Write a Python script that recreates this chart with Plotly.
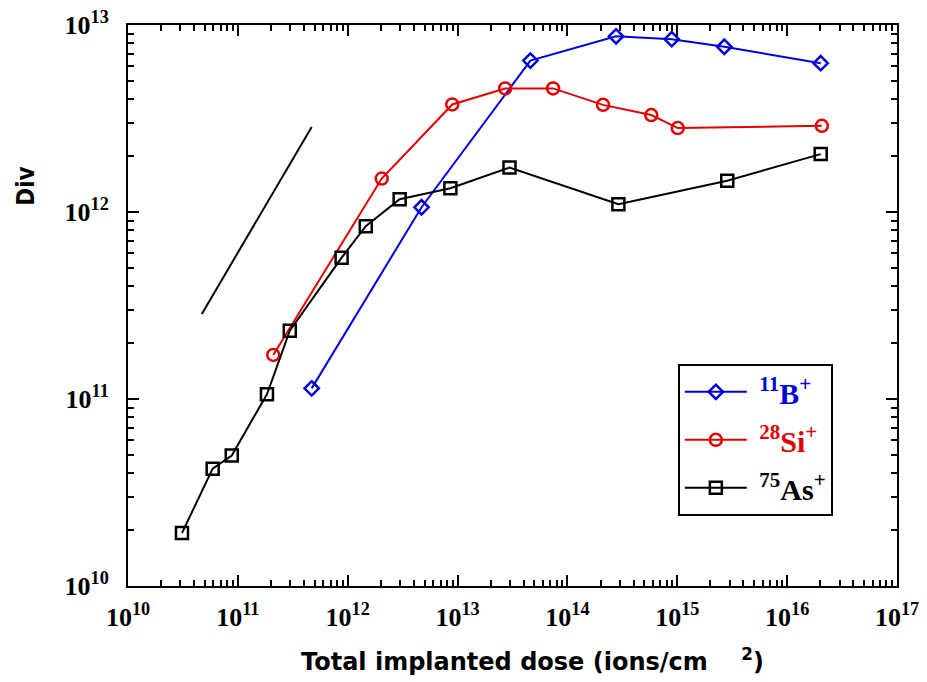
import plotly.graph_objects as go

# --- data ---
b_x = [4.7e11, 4.7e12, 4.6e13, 2.77e14, 8.9e14, 2.68e15, 2.02e16]
b_y = [1.14e11, 1.06e12, 6.45e12, 8.7e12, 8.4e12, 7.65e12, 6.25e12]

si_x = [2.1e11, 2.04e12, 8.95e12, 2.71e13, 7.4e13, 2.11e14, 5.8e14, 1.01e15, 2.07e16]
si_y = [1.72e11, 1.51e12, 3.76e12, 4.58e12, 4.58e12, 3.74e12, 3.3e12, 2.81e12, 2.89e12]

as_x = [3.1e10, 5.9e10, 8.8e10, 1.84e11, 2.97e11, 8.8e11, 1.46e12, 2.97e12, 8.6e12,
        2.97e13, 2.91e14, 2.85e15, 2.02e16]
as_y = [1.92e10, 4.24e10, 4.98e10, 1.06e11, 2.32e11, 5.7e11, 8.4e11, 1.17e12, 1.34e12,
        1.73e12, 1.1e12, 1.47e12, 2.04e12]

ref_x = [4.7e10, 4.7e11]
ref_y = [2.85e11, 2.85e12]

tick_exps = [10, 11, 12, 13, 14, 15, 16, 17]
ytick_exps = [10, 11, 12, 13]

fig = go.Figure()

fig.add_trace(go.Scatter(x=ref_x, y=ref_y, mode="lines", line=dict(color="black", width=2),
                         showlegend=False, hoverinfo="skip"))

fig.add_trace(go.Scatter(
    x=b_x, y=b_y, mode="lines+markers", legendgroup="b",
    name="&nbsp;<span style='color:#0000dd'><sup>11</sup>B<sup>+</sup></span>",
    line=dict(color="#0000dd", width=2),
    marker=dict(symbol="diamond-open", size=11, color="#0000dd", line=dict(width=2.5)),
))
fig.add_trace(go.Scatter(
    x=si_x, y=si_y, mode="lines+markers", legendgroup="si",
    name="&nbsp;<span style='color:#e00000'><sup>28</sup>Si<sup>+</sup></span>",
    line=dict(color="#e00000", width=2),
    marker=dict(symbol="circle-open", size=12, color="#e00000", line=dict(width=2.5)),
))
fig.add_trace(go.Scatter(
    x=as_x, y=as_y, mode="lines+markers", legendgroup="as",
    name="&nbsp;<sup>75</sup>As<sup>+</sup>",
    line=dict(color="black", width=2),
    marker=dict(symbol="square-open", size=12, color="black", line=dict(width=2.5)),
))

tickfont = dict(family="Liberation Serif, Times New Roman, serif", size=26, color="black", weight="bold")

common = dict(
    type="log", showline=True, linecolor="black", linewidth=2, mirror="allticks",
    ticks="inside", ticklen=11, tickwidth=2, tickcolor="black",
    showgrid=False, zeroline=False, tickfont=tickfont, ticklabeloverflow="allow",
    automargin=False,
    minor=dict(ticks="inside", ticklen=6, tickwidth=1.5, tickcolor="black", dtick="D1", showgrid=False),
)

fig.update_xaxes(
    range=[10, 17],
    tickvals=[10 ** e for e in tick_exps],
    ticktext=["10<sup>%d</sup>" % e for e in tick_exps],
    ticklabelstandoff=7,
    **common,
)
fig.update_yaxes(
    range=[10, 13],
    tickvals=[10 ** e for e in ytick_exps],
    ticktext=["10<sup>%d</sup>" % e for e in ytick_exps],
    ticklabelstandoff=12,
    **common,
)

fig.add_annotation(
    text="Total implanted dose (ions/cm&nbsp;&nbsp;&nbsp;&nbsp;<sup>2</sup>)",
    xref="paper", yref="paper", x=0.526, y=-0.132, xanchor="center", yanchor="middle",
    showarrow=False,
    font=dict(family="DejaVu Sans, Arial, sans-serif", size=24, color="black", weight="bold"),
)

fig.add_annotation(
    text="Div", xref="paper", yref="paper", x=-0.133, y=0.713,
    xanchor="center", yanchor="middle",
    showarrow=False, textangle=-90,
    font=dict(family="DejaVu Sans Condensed, DejaVu Sans, sans-serif", size=24, color="black", weight="bold"),
)

fig.update_layout(
    width=919, height=674,
    margin=dict(l=120, r=30, t=17, b=96),
    paper_bgcolor="white", plot_bgcolor="white",
    legend=dict(
        x=0.715, y=0.396, xanchor="left", yanchor="top",
        bordercolor="black", borderwidth=2, bgcolor="white",
        font=dict(family="Liberation Serif, Times New Roman, serif", size=30, color="black", weight="bold"),
        itemwidth=62, tracegroupgap=6,
    ),
)

fig.write_html("out.html")
